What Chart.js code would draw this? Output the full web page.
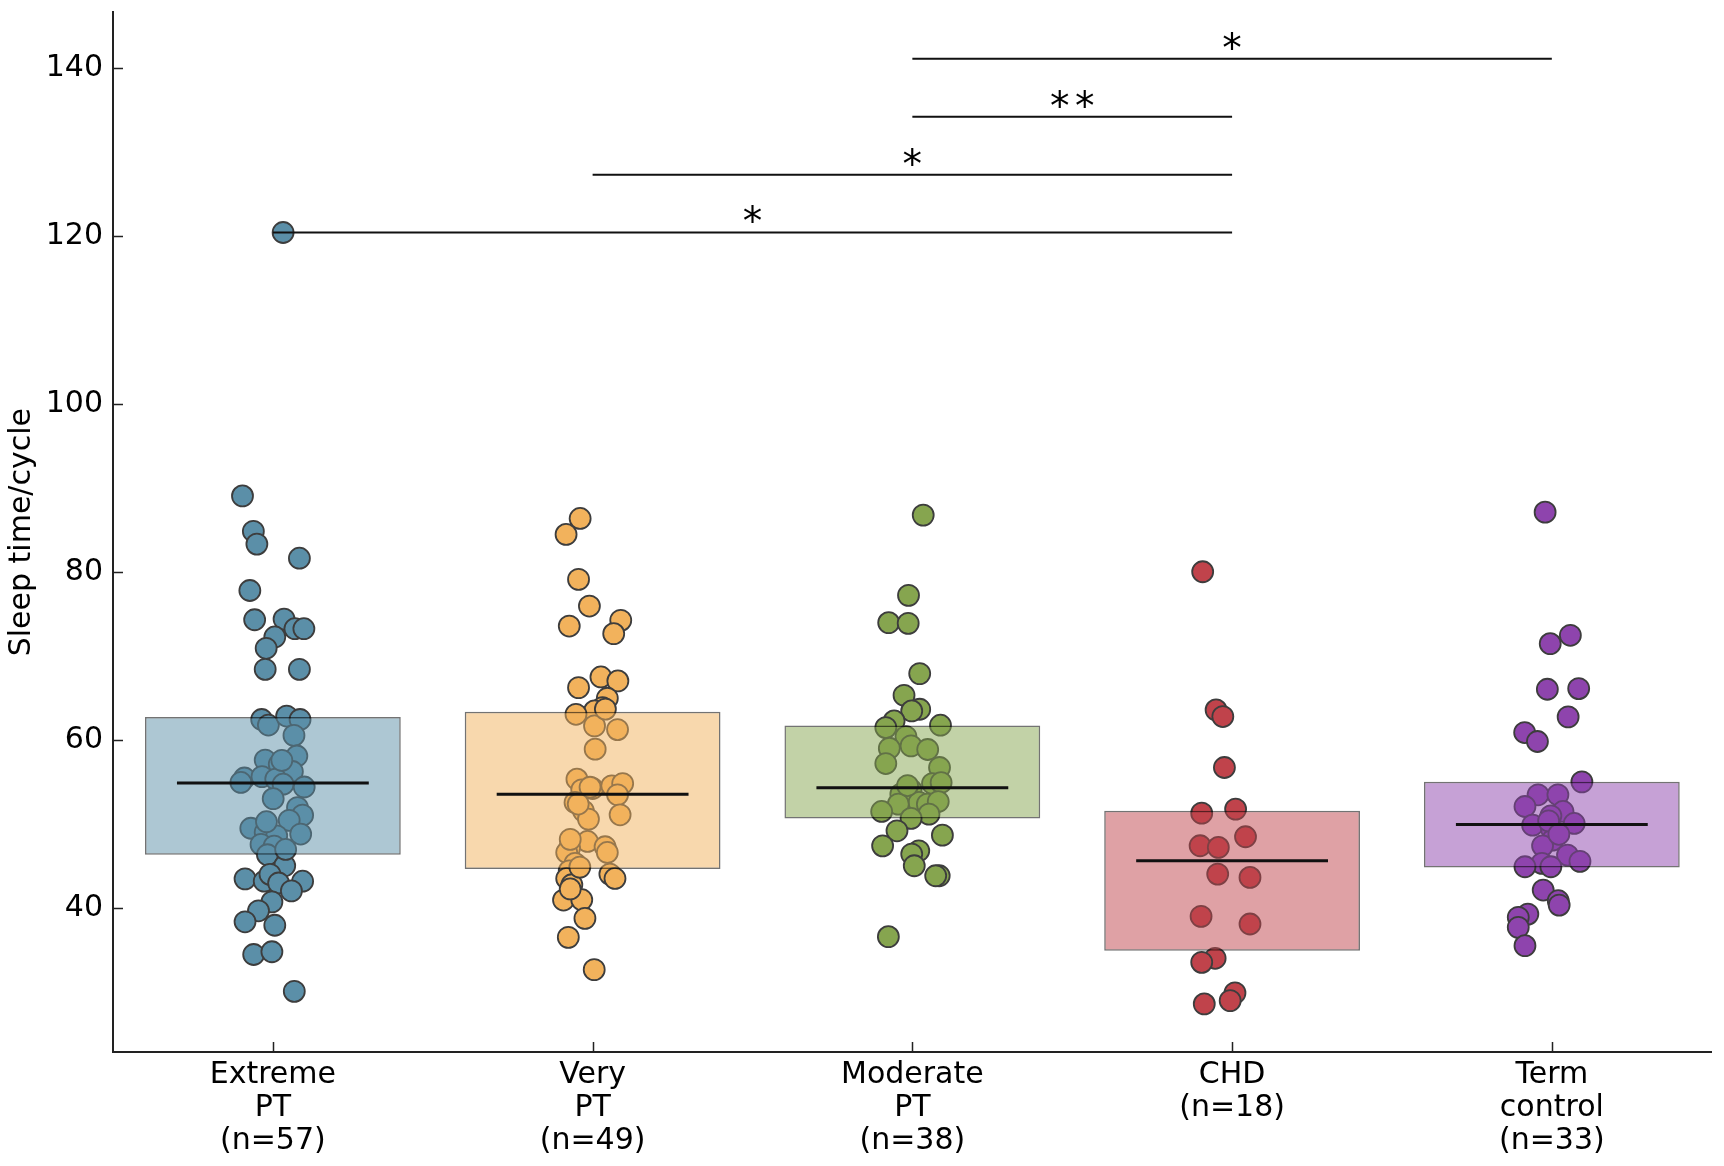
<!DOCTYPE html>
<html><head><meta charset="utf-8">
<script src="https://cdn.jsdelivr.net/npm/chart.js@4/dist/chart.umd.min.js"></script>
<style>html,body{margin:0;padding:0;background:#fff}</style>
</head><body>
<canvas id="c" width="1724" height="1166"></canvas>
<script>
// ---- data ----
const categories = [['Extreme','PT','(n=57)'], ['Very','PT','(n=49)'], ['Moderate','PT','(n=38)'], ['CHD','(n=18)'], ['Term','control','(n=33)']];

const extremeVals = [120.4, 89.06, 84.85, 83.33, 81.65, 77.81, 74.33, 74.41, 73.26, 73.26, 72.28, 70.93, 68.43, 68.43, 62.46, 61.80, 62.87, 62.46, 60.57, 58.12, 57.63, 57.14, 56.27, 55.50, 54.97, 55.66, 55.37, 54.76, 54.43, 53.04, 51.98, 51.08, 50.46, 49.52, 49.03, 48.62, 48.83, 47.60, 47.39, 46.37, 45.06, 43.50, 43.22, 44.04, 43.01, 43.22, 42.07, 40.76, 39.70, 38.39, 37.98, 34.50, 34.83, 30.12, 57.6, 50.3, 47.0];
const extremeJitter = [0.032, -0.095, -0.061, -0.050, 0.083, -0.072, -0.057, 0.035, 0.069, 0.097, 0.006, -0.021, -0.024, 0.083, -0.035, -0.014, 0.043, 0.085, 0.066, 0.075, -0.024, 0.020, 0.061, -0.089, -0.100, -0.034, 0.009, 0.032, 0.098, 0.001, 0.077, 0.093, 0.051, -0.069, -0.024, 0.012, 0.087, -0.037, 0.004, -0.017, 0.037, -0.087, -0.027, -0.009, 0.018, 0.093, 0.058, -0.003, -0.045, -0.087, 0.006, -0.060, -0.003, 0.067, 0.028, -0.020, 0.040];

const veryVals = [86.38, 84.48, 79.13, 75.96, 74.26, 73.58, 72.67, 67.52, 67.05, 66.25, 64.99, 63.88, 63.48, 63.08, 61.70, 61.26, 58.93, 55.36, 54.09, 54.25, 54.57, 54.84, 53.50, 52.59, 51.59, 50.61, 51.12, 47.95, 47.16, 46.64, 47.32, 46.64, 45.34, 44.46, 43.55, 44.07, 43.55, 42.80, 40.98, 41.02, 38.80, 36.54, 32.70, 48.2, 44.9, 54.4, 63.7, 52.4, 42.3];
const veryJitter = [-0.039, -0.083, -0.044, -0.010, 0.088, -0.073, 0.066, 0.026, 0.079, -0.044, 0.046, 0.031, 0.006, -0.052, 0.006, 0.078, 0.008, -0.049, -0.034, 0.000, 0.060, 0.094, 0.078, -0.055, -0.029, -0.013, 0.086, -0.016, -0.072, -0.081, 0.039, 0.046, -0.055, -0.073, -0.081, 0.054, 0.070, -0.065, -0.091, -0.034, -0.024, -0.076, 0.005, -0.070, -0.040, -0.008, 0.040, -0.045, -0.070];

const moderateVals = [86.78, 77.23, 73.98, 73.90, 67.92, 65.34, 63.68, 63.48, 62.29, 61.50, 61.78, 60.43, 59.04, 59.32, 58.89, 57.22, 56.75, 54.84, 54.96, 54.09, 53.58, 52.59, 52.39, 52.39, 52.70, 51.52, 51.20, 50.69, 49.22, 48.70, 47.43, 46.84, 46.45, 45.06, 43.87, 43.87, 36.62, 54.6];
const moderateJitter = [0.034, -0.012, -0.074, -0.013, 0.023, -0.026, 0.023, -0.002, -0.057, -0.083, 0.088, -0.020, -0.072, -0.004, 0.048, -0.083, 0.085, 0.063, 0.090, -0.004, -0.036, 0.021, -0.044, 0.047, 0.081, -0.096, 0.052, -0.004, -0.048, 0.094, -0.093, 0.020, -0.002, 0.006, 0.084, 0.073, -0.075, -0.015];

const chdVals = [80.04, 63.60, 62.81, 56.75, 51.32, 51.80, 48.51, 47.44, 47.24, 44.07, 43.67, 39.04, 38.13, 34.05, 33.57, 29.93, 29.01, 28.62];
const chdJitter = [-0.092, -0.050, -0.029, -0.024, -0.095, 0.011, 0.042, -0.100, -0.043, -0.045, 0.056, -0.097, 0.056, -0.053, -0.095, 0.009, -0.006, -0.087];

const termVals = [87.13, 72.48, 71.48, 66.06, 66.14, 62.77, 60.91, 59.84, 55.04, 53.50, 53.50, 52.11, 51.52, 51.00, 49.89, 50.09, 49.42, 48.11, 47.43, 45.34, 46.33, 45.58, 44.94, 44.94, 42.17, 40.90, 40.38, 39.31, 38.92, 37.73, 35.55, 50.4, 48.8];
const termJitter = [-0.021, 0.058, -0.005, -0.014, 0.084, 0.051, -0.085, -0.045, 0.094, -0.043, 0.019, -0.084, 0.035, -0.003, -0.060, 0.070, -0.001, 0.002, -0.029, -0.031, 0.049, 0.088, -0.084, -0.003, -0.027, 0.020, 0.023, -0.075, -0.105, -0.105, -0.084, -0.010, 0.022];

const boxLow  = [46.38, 44.67, 50.69, 34.96, 44.86];
const boxHigh = [62.75, 63.37, 61.74, 51.60, 55.05];
const means   = [54.89, 53.58, 54.33, 45.66, 49.97];

const bracketFrom  = [0, 1, 2, 2];
const bracketTo    = [3, 3, 3, 4];
const bracketLevel = [120.41, 127.27, 134.16, 141.06];
const bracketLabel = ['*', '*', '**', '*'];

const xTicks = [0, 1, 2, 3, 4];
const yTicks = [40, 60, 80, 100, 120, 140];
const yMin = 22.9, yMax = 146.6;

// ---- styling ----
const pointColors = ['#5b8fa8', '#f2b25c', '#86a54f', '#c0434b', '#8e44ad'];
function rgba(hex, a) {
  const n = parseInt(hex.slice(1), 16);
  return `rgba(${(n >> 16) & 255},${(n >> 8) & 255},${n & 255},${a})`;
}
const groupVals = [extremeVals, veryVals, moderateVals, chdVals, termVals];
const groupJitter = [extremeJitter, veryJitter, moderateJitter, chdJitter, termJitter];

const scatterSets = groupVals.map((vals, i) => ({
  type: 'scatter', order: 3,
  data: vals.map((v, k) => ({ x: i + groupJitter[i][k], y: v })),
  backgroundColor: pointColors[i], borderColor: '#3d3d3d', borderWidth: 1.8,
  pointRadius: 10.5, pointHoverRadius: 10.5
}));

const boxSet = {
  type: 'bar', order: 2, grouped: false,
  data: boxLow.map((l, i) => ({ x: xTicks[i], y: [l, boxHigh[i]] })),
  backgroundColor: pointColors.map(c => rgba(c, 0.5)),
  borderColor: 'rgba(0,0,0,0.55)', borderWidth: 1.5, borderSkipped: false,
  barPercentage: 0.8, categoryPercentage: 1.0
};

const meanSet = {
  type: 'line', order: 1,
  data: means.flatMap((m, i) => [{ x: i - 0.3, y: m }, { x: i + 0.3, y: m }, { x: i + 0.5, y: null }]),
  borderColor: '#111', borderWidth: 3, pointRadius: 0, spanGaps: false, fill: false
};

const bracketSet = {
  type: 'line', order: 0,
  data: bracketFrom.flatMap((f, i) => [{ x: f, y: bracketLevel[i] }, { x: bracketTo[i], y: bracketLevel[i] }, { x: bracketTo[i] + 0.01, y: null }]),
  borderColor: '#111', borderWidth: 2, pointRadius: 0, spanGaps: false, fill: false
};

const starPlugin = {
  id: 'stars',
  afterDatasetsDraw(chart) {
    const ctx = chart.ctx, xs = chart.scales.x, ys = chart.scales.y;
    ctx.save();
    ctx.fillStyle = '#000';
    ctx.font = '39px "DejaVu Sans"';
    ctx.textAlign = 'center';
    ctx.textBaseline = 'alphabetic';
    bracketLabel.forEach((lab, i) => {
      const mid = xs.getPixelForValue((bracketFrom[i] + bracketTo[i]) / 2);
      const py = ys.getPixelForValue(bracketLevel[i]);
      const n = lab.length, gap = 25;
      for (let k = 0; k < n; k++) {
        ctx.fillText('*', mid + (k - (n - 1) / 2) * gap, py + 2);
      }
    });
    ctx.restore();
  }
};

const tickPlugin = {
  id: 'inticks',
  afterDraw(chart) {
    const ctx = chart.ctx, a = chart.chartArea;
    ctx.save();
    ctx.strokeStyle = '#222';
    ctx.lineWidth = 1.5;
    ctx.beginPath();
    chart.scales.y.ticks.forEach(t => {
      const py = Math.round(chart.scales.y.getPixelForValue(t.value)) + 0.5;
      ctx.moveTo(a.left, py); ctx.lineTo(a.left + 10, py);
    });
    chart.scales.x.ticks.forEach(t => {
      const px = Math.round(chart.scales.x.getPixelForValue(t.value)) + 0.5;
      ctx.moveTo(px, a.bottom); ctx.lineTo(px, a.bottom - 10);
    });
    ctx.stroke();
    ctx.restore();
  }
};

new Chart(document.getElementById('c'), {
  type: 'scatter',
  data: { datasets: [...scatterSets, boxSet, meanSet, bracketSet] },
  options: {
    responsive: false, animation: false, events: [],
    layout: { padding: { top: 10, right: 6, left: 0, bottom: 0 } },
    plugins: { legend: { display: false }, tooltip: { enabled: false } },
    scales: {
      x: {
        type: 'linear', min: -0.5, max: 4.5, offset: false, position: 'bottom',
        grid: { display: false, drawTicks: false },
        border: { display: true, color: '#222', width: 2 },
        afterBuildTicks: s => { s.ticks = xTicks.map(v => ({ value: v })); },
        ticks: { color: '#000', font: { family: 'DejaVu Sans', size: 30, lineHeight: 1.1 }, padding: 7, maxRotation: 0, autoSkip: false,
                 callback: v => categories[v] },
        afterFit: s => { s.height = 114; s.paddingLeft = 0; s.paddingRight = 0; }
      },
      y: {
        type: 'linear', min: yMin, max: yMax,
        grid: { display: false, drawTicks: false },
        border: { display: true, color: '#222', width: 2 },
        ticks: { color: '#000', font: { family: 'DejaVu Sans', size: 30 }, padding: 10 },
        afterBuildTicks: s => { s.ticks = yTicks.map(v => ({ value: v })); },
        title: { display: true, text: 'Sleep time/cycle', color: '#000', font: { family: 'DejaVu Sans', size: 30 }, padding: { top: 4, bottom: 0 } },
        afterFit: s => { s.width = 113; s.paddingTop = 0; s.paddingBottom = 0; }
      }
    }
  },
  plugins: [starPlugin, tickPlugin]
});
</script>
</body></html>
